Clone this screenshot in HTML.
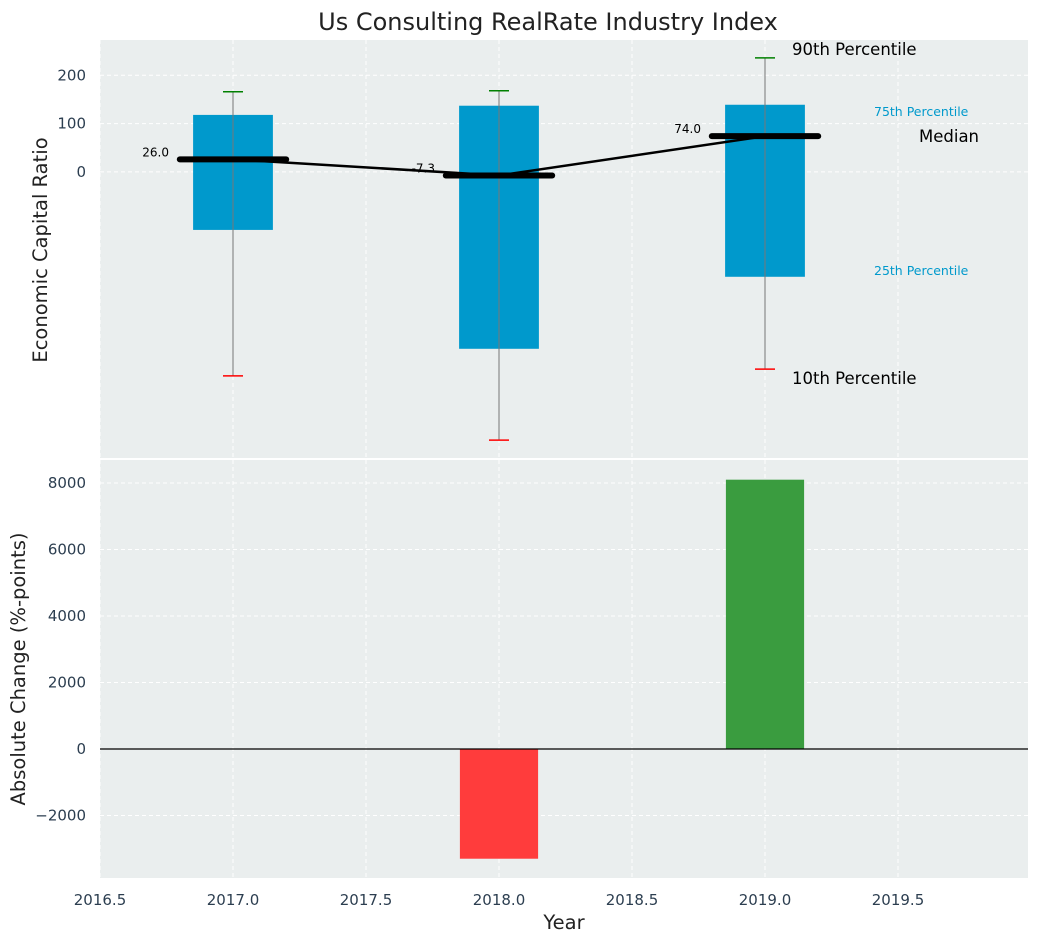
<!DOCTYPE html>
<html><head><meta charset="utf-8"><style>
body{margin:0;background:#fff;font-family:"Liberation Sans","DejaVu Sans",sans-serif}
svg text{font-family:"DejaVu Sans","Liberation Sans",sans-serif}
</style></head><body>
<svg id="chart" width="1039" height="942" xmlns="http://www.w3.org/2000/svg">
<text x="548" y="30" text-anchor="middle" font-size="24" fill="#222">Us Consulting RealRate Industry Index</text>
<g id="topPanel"></g>
<g id="botPanel"></g>
</svg>
<script>
const years=[2017,2018,2019];
const p10=[-422,-555,-408];
const p25=[-120,-366,-217];
const median=[26,-7.3,74];
const p75=[118,137,139];
const p90=[166,168,236];
const change=[0,-3300,8100];
const topTicks=[0,100,200];
const botTicks=[-2000,0,2000,4000,6000,8000];
const xTicks=[2016.5,2017,2017.5,2018,2018.5,2019,2019.5];

const NS="http://www.w3.org/2000/svg";
const L=100,R=1028;
const xs=v=>L+(v-2016.5)*266;
const T={y0:40,y1:458,ymax:273,ymin:-592};
const B={y0:460,y1:878,ymax:8692,ymin:-3880};
const ty=v=>T.y0+(T.ymax-v)/(T.ymax-T.ymin)*(T.y1-T.y0);
const by=v=>B.y0+(B.ymax-v)/(B.ymax-B.ymin)*(B.y1-B.y0);
function mk(p,tag,a,txt){const e=document.createElementNS(NS,tag);for(const k in a)e.setAttribute(k,a[k]);if(txt!==undefined)e.textContent=txt;p.appendChild(e);return e;}
const gTop=document.getElementById('topPanel'),gBot=document.getElementById('botPanel');

function panel(g,P,ticks,yf,name){
  let r=mk(g,'rect',{x:L,y:P.y0,width:R-L,height:P.y1-P.y0,fill:'#eaeeee'});
  
  
  xTicks.forEach(t=>{let l=mk(g,'line',{x1:xs(t),x2:xs(t),y1:P.y0,y2:P.y1,stroke:'#fff','stroke-dasharray':'4,3','stroke-width':1});
    
    });
  ticks.forEach(t=>{let y=yf(t);
    let l=mk(g,'line',{x1:L,x2:R,y1:y,y2:y,stroke:'#fff','stroke-dasharray':'4,3','stroke-width':1});
    
    
    let tx=mk(g,'text',{x:L-14,y:y+5,'text-anchor':'end','font-size':15,fill:'#2c3e50'},(t<0?'\u2212'+Math.abs(t):String(t)));
    
    });
}
panel(gTop,T,topTicks,ty,'top');
panel(gBot,B,botTicks,by,'bottom');

years.forEach((yr,i)=>{
  const cx=xs(yr),hw=0.15*266;
  let b=mk(gTop,'rect',{x:cx-hw,y:ty(p75[i]),width:2*hw,height:ty(p25[i])-ty(p75[i]),fill:'#0099cc'});
  
  
  let w=mk(gTop,'line',{x1:cx,x2:cx,y1:ty(p90[i]),y2:ty(p10[i]),stroke:'#777','stroke-width':1});
  
  
  let c1=mk(gTop,'line',{x1:cx-10,x2:cx+10,y1:ty(p90[i]),y2:ty(p90[i]),stroke:'green','stroke-width':1.5});
  
  
  let c2=mk(gTop,'line',{x1:cx-10,x2:cx+10,y1:ty(p10[i]),y2:ty(p10[i]),stroke:'red','stroke-width':1.5});
  
  
});
let pts=years.map((yr,i)=>xs(yr)+','+ty(median[i])).join(' ');
let pl=mk(gTop,'polyline',{points:pts,fill:'none',stroke:'#000','stroke-width':2.5});


years.forEach((yr,i)=>{
  const cx=xs(yr),y=ty(median[i]);
  let m=mk(gTop,'line',{x1:cx-0.2*266,x2:cx+0.2*266,y1:y,y2:y,stroke:'#000','stroke-width':6,'stroke-linecap':'round'});
  
  
  let t=mk(gTop,'text',{x:cx-64,y:y-3,'text-anchor':'end','font-size':12,fill:'#000'},median[i].toFixed(1));
  
  
});
const lx=xs(2019);
[[lx+27,ty(p90[2])-3,'90th Percentile',16.5,'#000'],[lx+109,116,'75th Percentile',12.5,'#0099cc'],
 [lx+154,ty(median[2])+6,'Median',16.5,'#000'],[lx+109,ty(p25[2])-2,'25th Percentile',12.5,'#0099cc'],
 [lx+27,ty(p10[2])+15,'10th Percentile',16.5,'#000']].forEach(a=>{
  let t=mk(gTop,'text',{x:a[0],y:a[1],'font-size':a[3],fill:a[4]},a[2]);
  
  
});
let yl=mk(gTop,'text',{x:47,y:250,'text-anchor':'middle','font-size':19.5,fill:'#222',transform:'rotate(-90 47 250)'},'Economic Capital Ratio');



years.forEach((yr,i)=>{
  const v=change[i];if(v===0)return;
  const cx=xs(yr),hw=0.147*266;
  let b=mk(gBot,'rect',{x:cx-hw,y:Math.min(by(v),by(0)),width:2*hw,height:Math.abs(by(v)-by(0)),fill:v<0?'#ff3c3c':'#3a9c3f'});
  
  
});
let zl=mk(gBot,'line',{x1:L,x2:R,y1:by(0),y2:by(0),stroke:'#000','stroke-width':1.2});


xTicks.forEach(t=>{let tx=mk(gBot,'text',{x:xs(t),y:905,'text-anchor':'middle','font-size':15,fill:'#2c3e50'},t.toFixed(1));
  
  });
let xl=mk(gBot,'text',{x:564,y:929,'text-anchor':'middle','font-size':19.5,fill:'#222'},'Year');


let yl2=mk(gBot,'text',{x:25,y:669,'text-anchor':'middle','font-size':19.5,fill:'#222',transform:'rotate(-90 25 669)'},'Absolute Change (%-points)');


</script>
</body></html>
